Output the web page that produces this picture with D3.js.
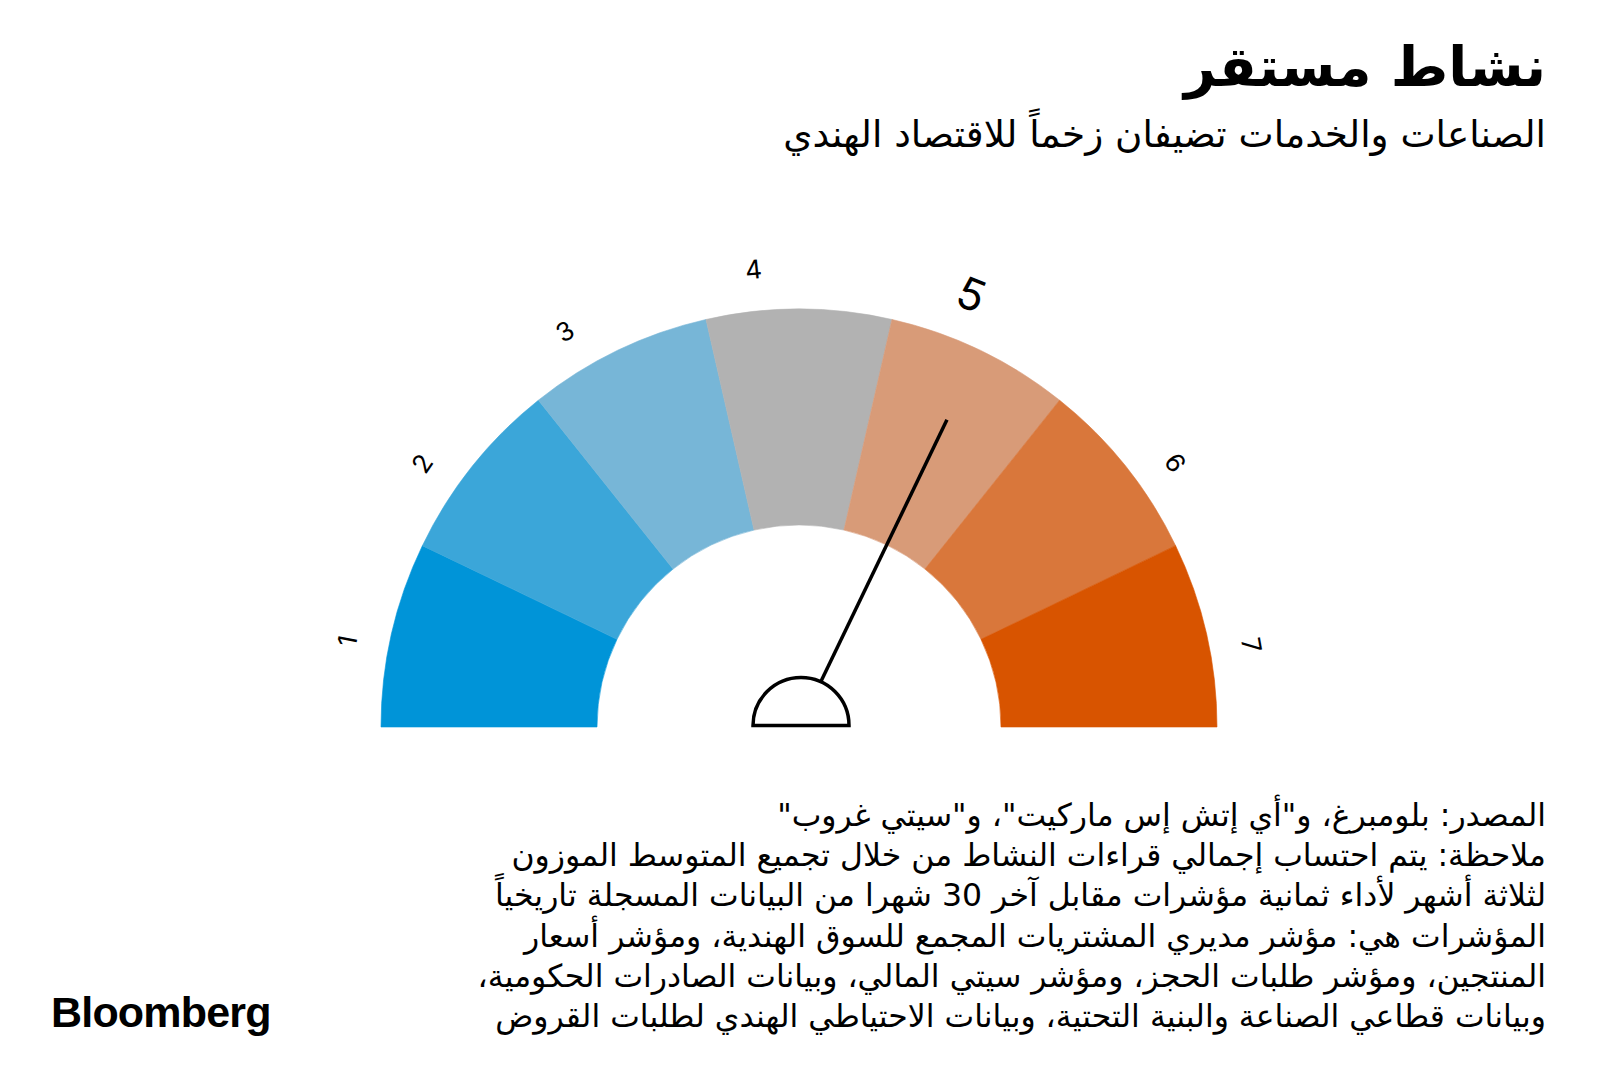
<!DOCTYPE html>
<html><head><meta charset="utf-8">
<script src="https://cdn.jsdelivr.net/npm/d3@7"></script>
<style>
body{margin:0;background:#fff;}
svg{display:block;}
</style></head><body>
<svg id="c" width="1600" height="1091"></svg>
<script>
const categories = ["1","2","3","4","5","6","7"];
const segmentColors = ["#0094d8","#3ba6d9","#77b6d7","#b2b2b2","#d89b78","#d9773b","#d85400"];
const currentValue = 5;
const titleText = "نشاط مستقر";
const subtitleText = "الصناعات والخدمات تضيفان زخماً للاقتصاد الهندي";
const footnoteLines = [
  "المصدر: بلومبرغ، و\"أي إتش إس ماركيت\"، و\"سيتي غروب\"",
  "ملاحظة: يتم احتساب إجمالي قراءات النشاط من خلال تجميع المتوسط الموزون",
  "لثلاثة أشهر لأداء ثمانية مؤشرات مقابل آخر 30 شهرا من البيانات المسجلة تاريخياً",
  "المؤشرات هي: مؤشر مديري المشتريات المجمع للسوق الهندية، ومؤشر أسعار",
  "المنتجين، ومؤشر طلبات الحجز، ومؤشر سيتي المالي، وبيانات الصادرات الحكومية،",
  "وبيانات قطاعي الصناعة والبنية التحتية، وبيانات الاحتياطي الهندي لطلبات القروض"
];
const brandText = "Bloomberg";

// styling (label angular nudges, in degrees)
const labelNudgeDeg = [-2.1, -3.6, -4.9, -5.7, -4, 3.5, 2.6];

const svg = d3.select("#c");
const arabicFont = "'DejaVu Sans',sans-serif";

function fitWidth(sel, target) {
  const w = sel.node().getComputedTextLength();
  const fs = parseFloat(sel.attr("font-size"));
  sel.attr("font-size", (fs * target / w).toFixed(2));
}

// Title & subtitle
const title = svg.append("text").attr("x", 1546).attr("y", 86)
  .attr("text-anchor", "start").style("direction", "rtl")
  .attr("font-family", arabicFont).attr("font-weight", 700).attr("font-size", 58)
  .attr("fill", "#000").text(titleText);
fitWidth(title, 362);
const sub = svg.append("text").attr("x", 1546).attr("y", 147)
  .attr("text-anchor", "start").style("direction", "rtl")
  .attr("font-family", arabicFont).attr("font-weight", 400).attr("font-size", 34)
  .attr("fill", "#000").text(subtitleText);
fitWidth(sub, 763);

// Gauge
const cx = 799, cy = 727, rOuter = 418, rInner = 202;
const g = svg.append("g").attr("transform", `translate(${cx},${cy})`);
const angle = d3.scaleBand().domain(categories).range([-Math.PI / 2, Math.PI / 2]).padding(0);
const valueAngle = d3.scaleLinear().domain([0.5, categories.length + 0.5]).range([-Math.PI / 2, Math.PI / 2]);
const color = d3.scaleOrdinal().domain(categories).range(segmentColors);

const arc = d3.arc().innerRadius(rInner).outerRadius(rOuter);
g.selectAll("path.seg").data(categories).join("path")
  .attr("class", "seg")
  .attr("d", d => arc({startAngle: angle(d), endAngle: angle(d) + angle.bandwidth()}))
  .attr("fill", d => color(d))
  .attr("stroke", d => color(d)).attr("stroke-width", 0.6);

// Labels
const labelR = 460;
g.selectAll("text.lbl").data(categories).join("text")
  .attr("class", "lbl")
  .each(function (d, i) {
    const big = +d === currentValue;
    const a = angle(d) + angle.bandwidth() / 2 + labelNudgeDeg[i] * Math.PI / 180;
    const r = big ? labelR + 6 : labelR;
    const x = r * Math.sin(a), y = -r * Math.cos(a);
    d3.select(this)
      .attr("transform", `translate(${x},${y}) rotate(${a * 180 / Math.PI})`)
      .attr("text-anchor", "middle").attr("dominant-baseline", "central")
      .attr("font-family", "Inter, 'DejaVu Sans', sans-serif")
      .attr("font-size", big ? 44 : 26)
      .attr("fill", "#000")
      .text(d);
  });

// Needle
const na = valueAngle(currentValue);
const hubR = 48, needleLen = 341;
g.append("line")
  .attr("x1", hubR * Math.sin(na)).attr("y1", -hubR * Math.cos(na))
  .attr("x2", needleLen * Math.sin(na)).attr("y2", -needleLen * Math.cos(na))
  .attr("stroke", "#000").attr("stroke-width", 3.5);
g.append("path")
  .attr("d", d3.arc()({innerRadius: 0, outerRadius: hubR, startAngle: -Math.PI / 2, endAngle: Math.PI / 2}))
  .attr("transform", "translate(2,-1.5)")
  .attr("fill", "#fff").attr("stroke", "#000").attr("stroke-width", 3.5);

// Footnote
const foot = svg.append("g").attr("font-family", arabicFont).attr("font-size", 27);
const lines = foot.selectAll("text").data(footnoteLines).join("text")
  .attr("x", 1546).attr("y", (d, i) => 826 + i * 40.2)
  .attr("text-anchor", "start").style("direction", "rtl")
  .attr("fill", "#000")
  .text(d => d);
const lastW = lines.nodes()[footnoteLines.length - 1].getComputedTextLength();
foot.attr("font-size", (27 * 1051 / lastW).toFixed(2));

// Brand
svg.append("text").attr("x", 51).attr("y", 1027)
  .attr("font-family", "'Liberation Sans', Arial, sans-serif").attr("font-weight", 700)
  .attr("font-size", 43).attr("letter-spacing", -0.8).attr("fill", "#000")
  .text(brandText);
</script>
</body></html>
